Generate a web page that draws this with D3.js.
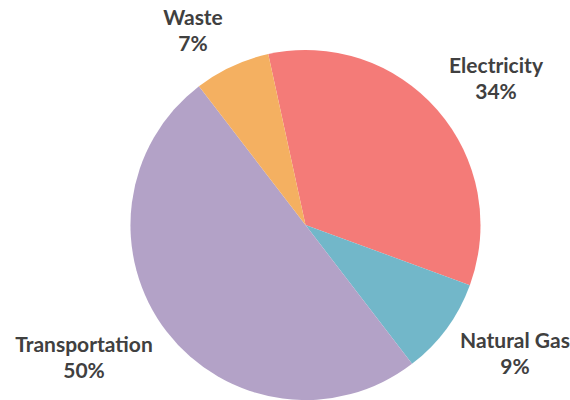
<!DOCTYPE html>
<html><head><meta charset="utf-8">
<script src="https://cdn.jsdelivr.net/npm/d3@7"></script>
<style>html,body{margin:0;padding:0;background:#fff;}</style>
</head><body>
<svg id="chart" width="570" height="400"></svg>
<script>
const categories = ["Electricity", "Natural Gas", "Transportation", "Waste"];
const values = [34, 9, 50, 7];
const colors = ["#F47B78", "#72B7C9", "#B3A2C7", "#F4B061"];

// layout (not data): baseline of first label line
const W = 570, H = 400, cx = 305.5, cy = 225, R = 175;
const startDeg = -12.3;
const labelAnchors = {
  "Electricity": [496, 73],
  "Natural Gas": [515, 348],
  "Transportation": [84, 352],
  "Waste": [193, 25]
};

const svg = d3.select("#chart");
const g = svg.append("g").attr("transform", `translate(${cx},${cy})`);
const start = startDeg * Math.PI / 180;
const pie = d3.pie().sort(null).value(d => d.v).startAngle(start).endAngle(start + 2 * Math.PI);
const data = categories.map((c, i) => ({c, v: values[i], col: colors[i]}));
const arc = d3.arc().innerRadius(0).outerRadius(R);
g.selectAll("path").data(pie(data)).enter().append("path")
  .attr("d", arc).attr("fill", d => d.data.col).attr("stroke", "none");

const total = d3.sum(values);
const font = "Lato, 'Open Sans', sans-serif";
const lab = svg.selectAll("g.lab").data(data).enter().append("g").attr("class", "lab")
  .attr("transform", d => `translate(${labelAnchors[d.c][0]},${labelAnchors[d.c][1]})`);
lab.append("text").attr("text-anchor", "middle").attr("y", 0)
  .style("font-family", font).style("font-weight", "700")
  .style("font-size", "21px").attr("fill", "#404040").text(d => d.c);
lab.append("text").attr("text-anchor", "middle").attr("y", 26)
  .style("font-family", font).style("font-weight", "700")
  .style("font-size", "21px").attr("fill", "#404040")
  .text(d => Math.round(d.v / total * 100) + "%");
</script>
</body></html>
